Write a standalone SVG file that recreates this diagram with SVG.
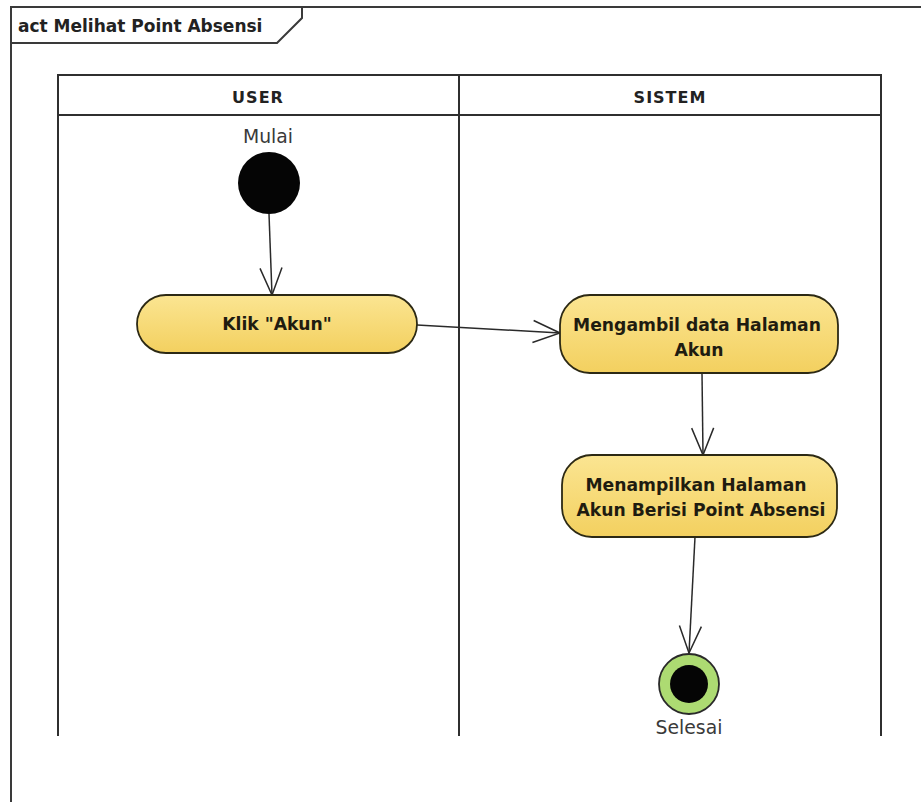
<svg xmlns="http://www.w3.org/2000/svg" width="921" height="802" viewBox="0 0 921 802">
  <style>
    .frame { fill: none; stroke: #3a3a3a; stroke-width: 2; }
    .lane { fill: none; stroke: #2f2f2f; stroke-width: 2; }
    .hdr { font-family: "DejaVu Sans", sans-serif; font-weight: bold; font-size: 16px; letter-spacing: 1px; fill: #222; text-anchor: middle; }
    .title { font-family: "DejaVu Sans", sans-serif; font-weight: bold; font-size: 17px; fill: #222; }
    .act { fill: url(#actFill); stroke: #2c2914; stroke-width: 1.8; }
    .actText { font-family: "DejaVu Sans", sans-serif; font-weight: bold; font-size: 17.2px; fill: #1f1c10; text-anchor: middle; }
    .lbl { font-family: "DejaVu Sans", sans-serif; font-size: 18.8px; fill: #3a3a3a; text-anchor: middle; }
    .flow { fill: none; stroke: #2a2a2a; stroke-width: 1.5; marker-end: url(#openArrow); }
  </style>
  <defs>
    <linearGradient id="actFill" x1="0" y1="0" x2="0" y2="1">
      <stop offset="0" stop-color="#fbe592"/>
      <stop offset="1" stop-color="#f3d05f"/>
    </linearGradient>
    <marker id="openArrow" markerUnits="userSpaceOnUse" markerWidth="40" markerHeight="30" viewBox="-30 -15 32 30" refX="0" refY="0" orient="auto">
      <path d="M-27,-11 L0,0 L-27,11" fill="none" stroke="#2a2a2a" stroke-width="1.5"/>
    </marker>
  </defs>

  <rect width="921" height="802" fill="#ffffff"/>

  <!-- activity frame with name tab -->
  <g id="frame">
    <path class="frame" d="M921,7 L11,7 L11,802"/>
    <path class="frame" d="M11,43 L277,43 L302,18 L302,7"/>
    <text class="title" x="18" y="32">act Melihat Point Absensi</text>
  </g>

  <!-- swimlanes -->
  <g id="lanes">
    <path class="lane" d="M58,736 L58,75 L881,75 L881,736"/>
    <path class="lane" d="M58,115 L881,115"/>
    <path class="lane" d="M459,75 L459,736"/>
    <text class="hdr" x="258" y="103">USER</text>
    <text class="hdr" x="670" y="103">SISTEM</text>
  </g>

  <!-- connectors -->
  <g id="connectors">
    <path class="flow" d="M269,214 L272,295"/>
    <path class="flow" d="M417,325 L560,333"/>
    <path class="flow" d="M702,373 L703,455"/>
    <path class="flow" d="M695,537 L689,653"/>
  </g>

  <g id="start">
    <text class="lbl" x="268" y="143">Mulai</text>
    <circle cx="269" cy="183" r="31" fill="#050505"/>
  </g>

  <g id="klik-akun">
    <rect class="act" x="137" y="295" width="280" height="58" rx="29" ry="29"/>
    <text class="actText" x="277" y="330">Klik "Akun"</text>
  </g>

  <g id="mengambil-data">
    <rect class="act" x="560" y="295" width="278" height="78" rx="30" ry="30"/>
    <text class="actText" x="697" y="331">Mengambil data Halaman</text>
    <text class="actText" x="699" y="356">Akun</text>
  </g>

  <g id="menampilkan-halaman">
    <rect class="act" x="562" y="455" width="275" height="82" rx="30" ry="30"/>
    <text class="actText" x="696" y="491">Menampilkan Halaman</text>
    <text class="actText" x="701" y="516">Akun Berisi Point Absensi</text>
  </g>

  <g id="end">
    <circle cx="689" cy="684" r="30" fill="#addb72" stroke="#2a2a2a" stroke-width="1.8"/>
    <circle cx="689" cy="684" r="19" fill="#050505"/>
    <text class="lbl" x="689" y="734">Selesai</text>
  </g>
</svg>
